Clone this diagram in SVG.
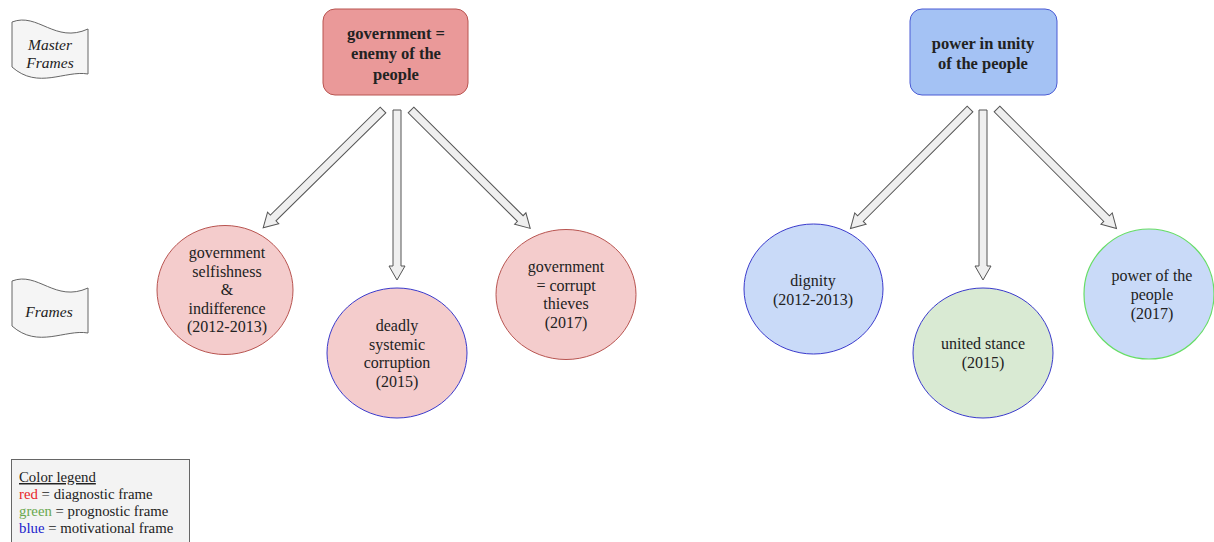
<svg xmlns="http://www.w3.org/2000/svg" width="1214" height="542" viewBox="0 0 1214 542">
<defs>
<style>
text{font-family:"Liberation Serif","Times New Roman",serif;fill:#222;text-anchor:middle}
.t{font-size:16px}
.b{font-size:16.5px;font-weight:bold}
.lab{font-size:15.5px;font-style:italic}
.leg{font-size:14.8px;text-anchor:start}
.tape{fill:#f5f5f5;stroke:#666;stroke-width:1}
.arr{fill:#efefef;stroke:#555;stroke-width:1}
.redc{fill:#f4cccc;stroke:#b85450;stroke-width:1}
.pinkblue{fill:#f4cccc;stroke:#3a3acc;stroke-width:1}
.bluec{fill:#c9daf8;stroke:#3a3acc;stroke-width:1}
.greenc{fill:#d9ead3;stroke:#3a3acc;stroke-width:1}
.bluegreen{fill:#c9daf8;stroke:#66dd66;stroke-width:1.2}
</style>
<path id="tapeShape" d="M12,22 C38,12 55,44 88,29 L88,74 C65,70 38,90 12,67 Z"/>
</defs>
<rect width="1214" height="542" fill="#ffffff"/>

<g id="label-master">
<use href="#tapeShape" class="tape"/>
<text class="lab" x="50" y="50">Master</text>
<text class="lab" x="50" y="68">Frames</text>
</g>
<g id="label-frames">
<use href="#tapeShape" class="tape" transform="translate(0,259)"/>
<text class="lab" x="49" y="317">Frames</text>
</g>

<g id="connectors">
<polygon class="arr" points="0,-4 154,-4 154,-8 168,0 154,8 154,4 0,4" transform="translate(383,110) rotate(135.5)"/>
<polygon class="arr" points="0,-4 156,-4 156,-8 170,0 156,8 156,4 0,4" transform="translate(397,110) rotate(90)"/>
<polygon class="arr" points="0,-4 154,-4 154,-8 168,0 154,8 154,4 0,4" transform="translate(411,110) rotate(44.8)"/>
<polygon class="arr" points="0,-4 155,-4 155,-8 169,0 155,8 155,4 0,4" transform="translate(970,109) rotate(135)"/>
<polygon class="arr" points="0,-4 156,-4 156,-8 170,0 156,8 156,4 0,4" transform="translate(983,110) rotate(90)"/>
<polygon class="arr" points="0,-4 155,-4 155,-8 169,0 155,8 155,4 0,4" transform="translate(997,109) rotate(45)"/>
</g>

<g id="master-gov">
<rect x="323" y="9" width="145" height="86" rx="12" fill="#ea9999" stroke="#b85450" stroke-width="1"/>
<text class="b" x="396" y="39">government =</text>
<text class="b" x="396" y="59">enemy of the</text>
<text class="b" x="396" y="80">people</text>
</g>
<g id="master-power">
<rect x="910" y="9" width="147" height="86" rx="12" fill="#a4c2f4" stroke="#4a5bd4" stroke-width="1"/>
<text class="b" x="983" y="49">power in unity</text>
<text class="b" x="983" y="69">of the people</text>
</g>

<g id="frame-selfishness">
<ellipse class="redc" cx="225" cy="290" rx="68" ry="64.5"/>
<text class="t" x="227" y="258">government</text>
<text class="t" x="227" y="276.5">selfishness</text>
<text class="t" x="227" y="295">&amp;</text>
<text class="t" x="227" y="313.5">indifference</text>
<text class="t" x="227" y="332">(2012-2013)</text>
</g>
<g id="frame-corruption">
<ellipse class="pinkblue" cx="397" cy="353" rx="70" ry="65"/>
<text class="t" x="397" y="331">deadly</text>
<text class="t" x="397" y="350">systemic</text>
<text class="t" x="397" y="368">corruption</text>
<text class="t" x="397" y="387">(2015)</text>
</g>
<g id="frame-thieves">
<ellipse class="redc" cx="566" cy="294.5" rx="70" ry="65"/>
<text class="t" x="566" y="272">government</text>
<text class="t" x="566" y="291">= corrupt</text>
<text class="t" x="566" y="309">thieves</text>
<text class="t" x="566" y="328">(2017)</text>
</g>
<g id="frame-dignity">
<ellipse class="bluec" cx="813.5" cy="289" rx="69.5" ry="65"/>
<text class="t" x="813" y="286">dignity</text>
<text class="t" x="813" y="305">(2012-2013)</text>
</g>
<g id="frame-united">
<ellipse class="greenc" cx="983" cy="353" rx="70" ry="65"/>
<text class="t" x="983" y="349">united stance</text>
<text class="t" x="983" y="368">(2015)</text>
</g>
<g id="frame-power">
<ellipse class="bluegreen" cx="1149" cy="294" rx="65" ry="65"/>
<text class="t" x="1152" y="281">power of the</text>
<text class="t" x="1152" y="300">people</text>
<text class="t" x="1152" y="319">(2017)</text>
</g>

<g id="legend">
<rect x="11.5" y="459.5" width="178" height="90" fill="#f3f3f3" stroke="#666" stroke-width="1"/>
<text class="leg" x="19" y="482" text-decoration="underline">Color legend</text>
<text class="leg" x="19" y="499"><tspan fill="#e8232a">red</tspan> = diagnostic frame</text>
<text class="leg" x="19" y="516"><tspan fill="#6aa84f">green</tspan> = prognostic frame</text>
<text class="leg" x="19" y="533"><tspan fill="#1c1ccc">blue</tspan> = motivational frame</text>
</g>
</svg>
